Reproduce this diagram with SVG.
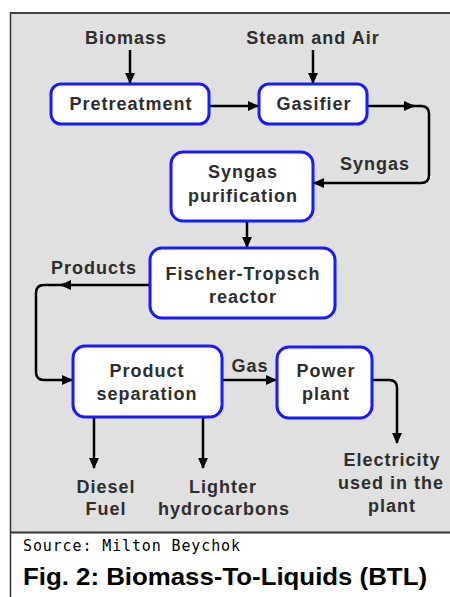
<svg xmlns="http://www.w3.org/2000/svg" width="450" height="597" viewBox="0 0 450 597">
<defs>
<style>
.panel{fill:#e0e0e0}
.node rect{fill:#fff;stroke:#1a1aff;stroke-width:3}
.t{font-family:"Liberation Sans",Arial,sans-serif;font-weight:bold;font-size:18px;letter-spacing:1px;fill:#2e2e2e;text-anchor:middle}
.c path{fill:none;stroke:#000;stroke-width:2.5}
.arr{marker-end:url(#ah)}
</style>
<marker id="ah" markerUnits="userSpaceOnUse" markerWidth="11" markerHeight="11" refX="10" refY="5.5" orient="auto">
<path d="M0,0.5 L11,5.5 L0,10.5 z" fill="#000"/>
</marker>
</defs>
<rect x="0" y="0" width="450" height="597" fill="#fff"/>
<rect class="panel" x="11" y="13" width="439" height="519"/>
<path d="M10.5,12 V597" stroke="#333" stroke-width="1.5"/>
<path d="M10,13 H450" stroke="#444" stroke-width="2"/>
<path d="M10,532.5 H450" stroke="#333" stroke-width="2"/>

<g id="connectors" class="c">
<path class="arr" d="M130,50 V83"/>
<path class="arr" d="M313,50 V83"/>
<path class="arr" d="M210,106 H258"/>
<path class="arr" d="M367,106 H414"/>
<path class="arr" d="M410,106 H421 Q429,106 429,114 V175 Q429,183 421,183 H314"/>
<path class="arr" d="M247,221 V247"/>
<path class="arr" d="M149,285 H61"/>
<path class="arr" d="M65,285 H44 Q36,285 36,293 V372 Q36,380 44,380 H72"/>
<path class="arr" d="M222,380 H276"/>
<path class="arr" d="M372,380 H389 Q397,380 397,388 V443"/>
<path class="arr" d="M94,418 V468"/>
<path class="arr" d="M203,418 V468"/>
</g>

<g id="labels">
<text class="t" x="126" y="44">Biomass</text>
<text class="t" x="313" y="44">Steam and Air</text>
<text class="t" x="375" y="170">Syngas</text>
<text class="t" x="94" y="274">Products</text>
<text class="t" x="250" y="372">Gas</text>
<text class="t" x="106" y="493">Diesel</text>
<text class="t" x="106" y="515">Fuel</text>
<text class="t" x="223" y="493">Lighter</text>
<text class="t" x="224" y="515">hydrocarbons</text>
<text class="t" x="392" y="466">Electricity</text>
<text class="t" x="391" y="489">used in the</text>
<text class="t" x="392" y="512">plant</text>
</g>

<g id="pretreatment" class="node">
<rect x="51" y="84" width="158" height="40" rx="10"/>
<text class="t" x="131" y="110">Pretreatment</text>
</g>
<g id="gasifier" class="node">
<rect x="259" y="84" width="108" height="40" rx="10"/>
<text class="t" x="314" y="110">Gasifier</text>
</g>
<g id="syngas-purification" class="node">
<rect x="171" y="152" width="142" height="69" rx="12"/>
<text class="t" x="243" y="178">Syngas</text>
<text class="t" x="243" y="202">purification</text>
</g>
<g id="fischer-tropsch" class="node">
<rect x="150" y="248" width="185" height="70" rx="12"/>
<text class="t" x="243" y="280">Fischer-Tropsch</text>
<text class="t" x="243" y="303">reactor</text>
</g>
<g id="product-separation" class="node">
<rect x="73" y="346" width="149" height="71" rx="12"/>
<text class="t" x="147" y="377">Product</text>
<text class="t" x="147" y="400">separation</text>
</g>
<g id="power-plant" class="node">
<rect x="277" y="347" width="95" height="71" rx="12"/>
<text class="t" x="326" y="377">Power</text>
<text class="t" x="326" y="400">plant</text>
</g>

<g id="caption">
<text x="23" y="551" font-family="'DejaVu Sans Mono',monospace" font-size="15" textLength="217" lengthAdjust="spacing" fill="#000">Source: Milton Beychok</text>
<text x="23" y="585" font-family="'Liberation Sans',Arial,sans-serif" font-weight="bold" font-size="24" textLength="404" lengthAdjust="spacingAndGlyphs" fill="#000">Fig. 2: Biomass-To-Liquids (BTL)</text>
</g>
</svg>
